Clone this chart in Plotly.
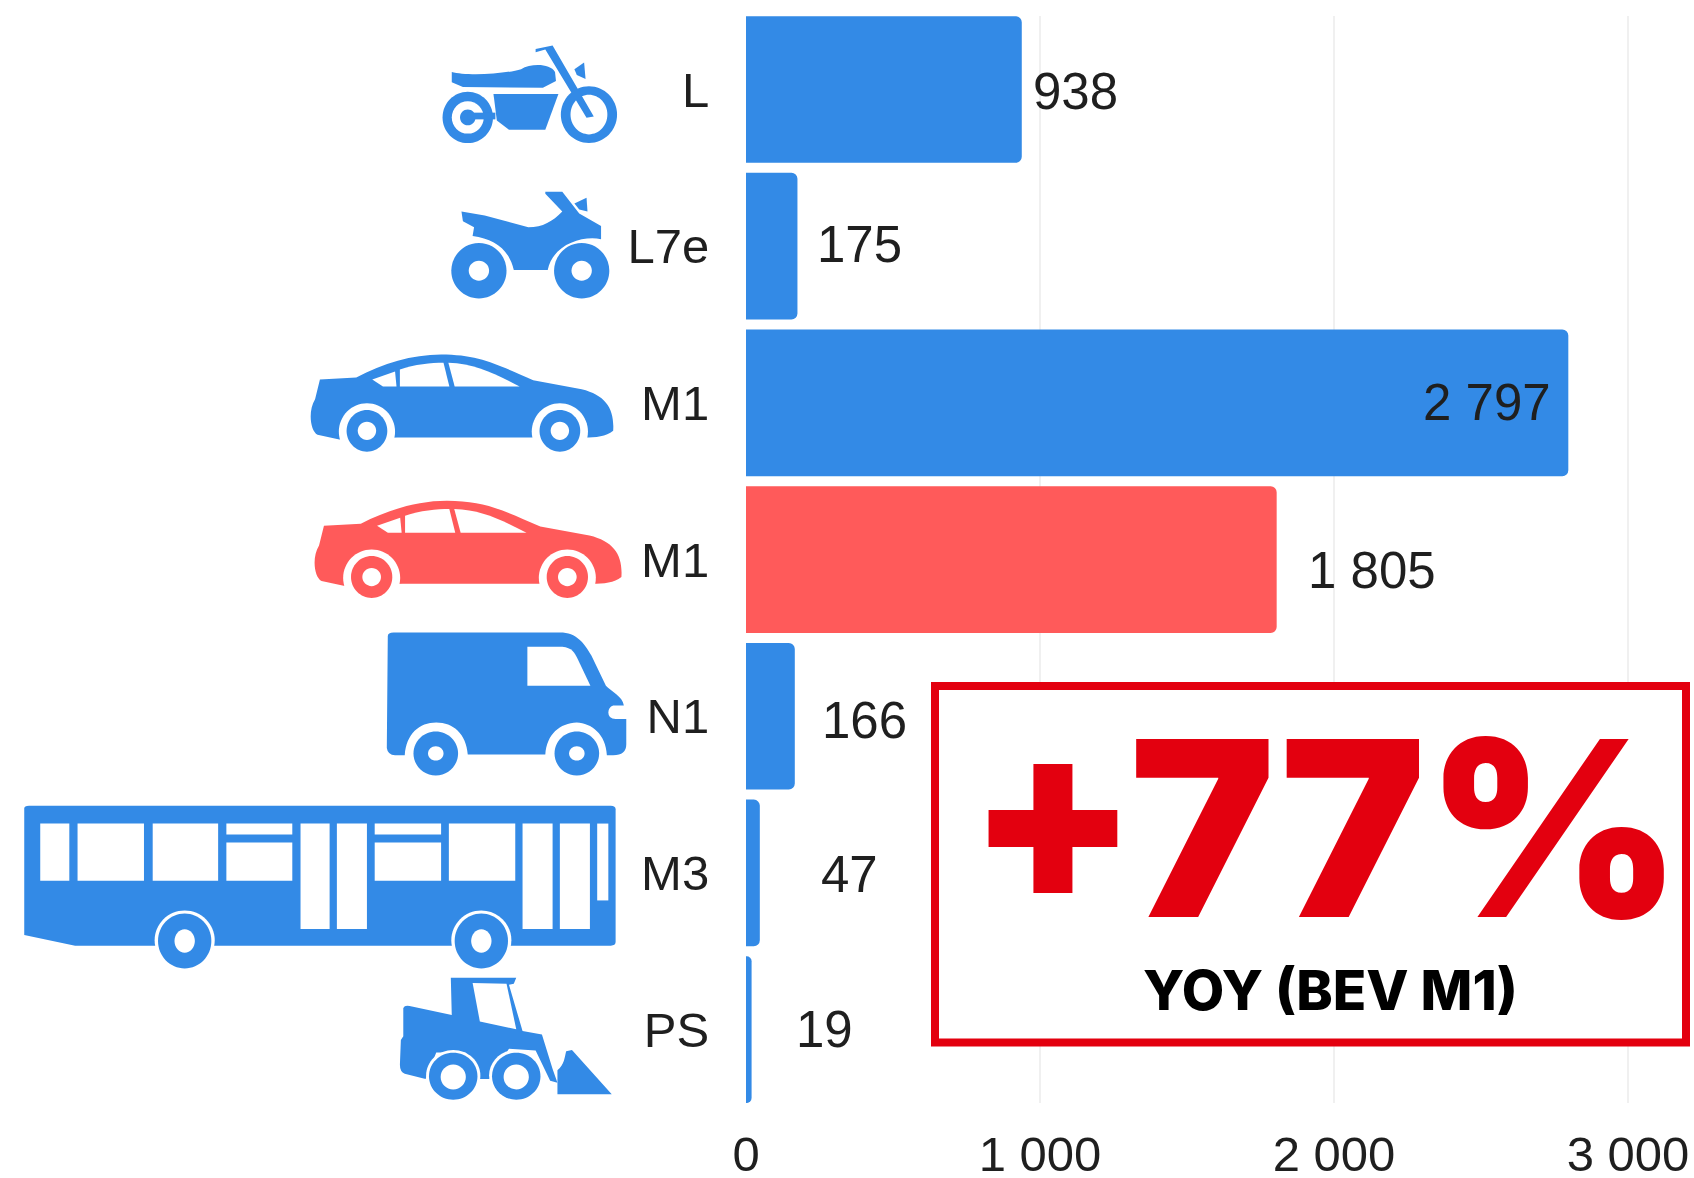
import re
import plotly.graph_objects as go

W, H = 1694, 1178
categories = ["L", "L7e", "M1", "M1", "N1", "M3", "PS"]
values = [938, 175, 2797, 1805, 166, 47, 19]
value_labels = ["938", "175", "2 797", "1 805", "166", "47", "19"]
bar_colors = ["#338ae6", "#338ae6", "#338ae6", "#ff5a5a", "#338ae6", "#338ae6", "#338ae6"]
label_dx = [9.5, 18, -15, 29, 25, 59, 42]
label_dy = [2, -2, 0, 11, 4, 2, 0]
x_ticks = [0, 1000, 2000, 3000]
x_ticklabels = ["0", "1 000", "2 000", "3 000"]
BLUE, RED, WHITE = "#338ae6", "#ff5a5a", "#ffffff"
BOX_RED = "#e3000f"

X0, PX_PER = 746, 0.294
PLOT_TOP, PLOT_BOTTOM = 16, 1103


def px(d, sx=1, sy=1, ox=0, oy=0, kx=1, x0=0):
    """Path in source units -> paper path."""
    out = []
    for cmd, args in re.findall(r"([MLCQZ])([^MLCQZ]*)", d):
        nums = [float(n) for n in re.findall(r"-?\d+\.?\d*", args)]
        pts = []
        for i in range(0, len(nums), 2):
            x = (x0 + (nums[i] - x0) * kx) / sx + ox
            y = nums[i + 1] / sy + oy
            pts.append(f"{x / W:.5f},{1 - y / H:.5f}")
        out.append(cmd + " ".join(pts))
    return " ".join(out)


def ell(cx, cy, rx, ry):
    k = 0.5523
    return (f"M{cx-rx},{cy} C{cx-rx},{cy-k*ry} {cx-k*rx},{cy-ry} {cx},{cy-ry} "
            f"C{cx+k*rx},{cy-ry} {cx+rx},{cy-k*ry} {cx+rx},{cy} "
            f"C{cx+rx},{cy+k*ry} {cx+k*rx},{cy+ry} {cx},{cy+ry} "
            f"C{cx-k*rx},{cy+ry} {cx-rx},{cy+k*ry} {cx-rx},{cy} Z")


def rect(a, b, c, d):
    return f"M{a},{b} L{c},{b} L{c},{d} L{a},{d} Z"


shapes = []


def add(d, color, **t):
    shapes.append(dict(type="path", xref="paper", yref="paper", path=px(d, **t),
                       fillcolor=color, line=dict(width=0), layer="above"))


Z1 = dict(sx=2.063, sy=2.53, ox=0, oy=0)
Z2 = dict(sx=2.063, sy=2.81, ox=0, oy=620)

# motorcycle
add(ell(965, 297, 52, 65), BLUE, **Z1)
add(ell(965, 297, 33, 41), WHITE, **Z1)
add(ell(965, 297, 16, 20), BLUE, **Z1)
add(rect(965, 285, 1022, 302), BLUE, **Z1)
add(ell(1215, 290, 58, 72), BLUE, **Z1)
add(ell(1215, 290, 38, 50), WHITE, **Z1)
add("M932,182 C960,192 1040,188 1075,175 C1095,160 1135,160 1145,182 L1147,205 L1120,222 L955,220 L932,208 Z", BLUE, **Z1)
add("M1018,238 L1152,238 L1125,328 L1050,328 L1025,305 Z", BLUE, **Z1)
add("M1140,115 L1225,295 L1210,298 L1125,125 L1105,132 L1105,124 Z", BLUE, **Z1)
add("M1205,158 L1208,200 L1190,190 L1185,175 Z", BLUE, **Z1)

# quad
add("M952,535 L1000,545 L1090,575 C1120,575 1140,560 1160,535 L1125,490 L1125,485 L1160,485 L1195,540 L1240,572 "
    "L1240,605 C1200,595 1140,620 1130,683 L1060,683 C1050,630 1020,605 975,597 L978,575 L955,560 Z", BLUE, **Z1)
add("M1210,500 L1212,535 L1195,530 L1185,515 Z", BLUE, **Z1)
for cx in (988, 1200):
    add(ell(cx, 685, 57, 70), BLUE, **Z1)
    add(ell(cx, 685, 21, 25), WHITE, **Z1)


# cars
def car(color, **t):
    add("M660,960 L735,955 C790,920 850,897 910,897 C990,897 1030,925 1100,962 L1200,985 C1250,1000 1268,1035 1265,1090 "
        "C1250,1105 1230,1107 1205,1107 L820,1107 L700,1112 L655,1100 C640,1090 635,1040 650,1010 Z", color, **t)
    add("M768,960 L815,940 L818,978 L790,978 Z", WHITE, **t)
    add("M825,935 C855,922 890,918 915,918 L927,978 L825,978 Z", WHITE, **t)
    add("M925,918 C980,920 1020,945 1072,978 L938,978 Z", WHITE, **t)
    for cx in (757, 1155):
        add(ell(cx, 1092, 58, 72), WHITE, **t)
        add(ell(cx, 1090, 42, 53), BLUE if color == BLUE else RED, **t)
        add(ell(cx, 1090, 19, 23), WHITE, **t)


car(BLUE, **Z1)
car(RED, sx=2.063, sy=2.53, ox=3.9, oy=370 / 2.53, kx=1.0143, x0=640)

# van
add("M800,45 Q800,35 812,35 L1155,35 C1190,35 1205,65 1220,100 L1250,185 C1260,200 1285,215 1287,240 L1265,240 "
    "Q1255,245 1255,260 Q1255,278 1270,278 L1292,278 L1292,350 Q1292,380 1265,380 L1252,380 C1250,320 1220,290 1190,288 "
    "C1155,290 1128,320 1125,378 L965,378 C962,320 935,288 900,288 C865,288 838,320 835,380 L815,380 Q800,380 798,360 Z", BLUE, **Z2)
add("M1088,75 L1160,75 C1180,78 1185,90 1192,110 L1218,185 L1088,185 Z", WHITE, **Z2)
for cx in (899, 1190):
    add(ell(cx, 375, 46, 62), BLUE, **Z2)
    add(ell(cx, 375, 16, 20), WHITE, **Z2)

# bus
add("M50,530 Q50,522 60,522 L1260,522 Q1270,522 1270,532 L1270,905 Q1270,915 1260,915 L155,915 L50,885 Z", BLUE, **Z2)
for a, b, c, d in [(83, 572, 143, 733), (160, 572, 297, 733), (315, 572, 450, 733), (467, 572, 603, 603),
                   (467, 625, 603, 733), (620, 572, 680, 868), (695, 572, 757, 868), (773, 572, 910, 603),
                   (773, 625, 910, 733), (926, 572, 1063, 733), (1078, 572, 1140, 868), (1155, 572, 1217, 868),
                   (1232, 572, 1255, 788)]:
    add(rect(a, b, c, d), WHITE, **Z2)
for cx in (381, 993):
    add(ell(cx, 900, 62, 84), WHITE, **Z2)
    add(ell(cx, 902, 55, 77), BLUE, **Z2)
    add(ell(cx, 902, 21, 33), WHITE, **Z2)

# loader
add("M832,1090 Q835,1082 845,1085 L932,1110 L930,1005 L1065,1005 L1060,1022 L1050,1025 L1078,1155 L1118,1165 L1140,1262 "
    "L1150,1300 L1135,1295 L1105,1210 L1050,1205 L1010,1290 L990,1290 L960,1215 L900,1215 L878,1290 L835,1275 "
    "Q825,1270 825,1250 L827,1180 L832,1170 Z", BLUE, **Z2)
add("M975,1020 L1045,1022 L1065,1150 L990,1128 Z", WHITE, **Z2)
add("M1150,1265 C1165,1250 1165,1225 1168,1212 L1180,1208 L1262,1333 L1150,1333 Z", BLUE, **Z2)
for cx in (935, 1065):
    add(ell(cx, 1280, 56, 72), WHITE, **Z2)
    add(ell(cx, 1282, 50, 66), BLUE, **Z2)
    add(ell(cx, 1284, 26, 35), WHITE, **Z2)

# callout box
shapes.append(dict(type="rect", xref="paper", yref="paper", x0=935 / W, x1=1686 / W,
                   y0=1 - 1042.5 / H, y1=1 - 686 / H, fillcolor=WHITE,
                   line=dict(color=BOX_RED, width=8), layer="above"))

annotations = []
for i, (v, t, dx, dy) in enumerate(zip(values, value_labels, label_dx, label_dy)):
    annotations.append(dict(x=v, y=i, xref="x", yref="y", text=t, showarrow=False,
                            xanchor="right" if dx < 0 else "left", xshift=dx, yshift=-dy,
                            font=dict(family="Liberation Sans", size=51, color="#1f1f1f")))
annotations.append(dict(x=1325 / W, y=1 - 828 / H, xref="paper", yref="paper", text="+77%", showarrow=False,
                        font=dict(family="Inter", size=245, color=BOX_RED, weight=900), xanchor="center", yanchor="middle"))
annotations.append(dict(x=1330 / W, y=1 - 990 / H, xref="paper", yref="paper", text="YOY (BEV M1)", showarrow=False,
                        font=dict(family="Inter", size=55, color="#000000", weight=800), xanchor="center", yanchor="middle"))

fig = go.Figure(go.Bar(x=values, y=list(range(len(values))), orientation="h",
                       marker=dict(color=bar_colors, line=dict(width=0), cornerradius=6),
                       hoverinfo="skip"))
fig.update_layout(
    width=W, height=H, margin=dict(l=0, r=0, t=0, b=0, autoexpand=False), paper_bgcolor="white", plot_bgcolor="white",
    bargap=0.0638, showlegend=False, shapes=shapes, annotations=annotations,
    font=dict(family="Liberation Sans", color="#1f1f1f"),
    xaxis=dict(domain=[X0 / W, 1], range=[0, (W - X0) / PX_PER], tickvals=x_ticks, ticktext=x_ticklabels,
               showgrid=True, gridcolor="#f0f0f0", gridwidth=2, zeroline=False, showline=False,
               ticks="outside", ticklen=8, tickcolor="rgba(0,0,0,0)", tickfont=dict(size=49, color="#1f1f1f")),
    yaxis=dict(domain=[1 - PLOT_BOTTOM / H, 1 - PLOT_TOP / H], range=[6.468, -0.469], tickvals=list(range(len(categories))),
               ticktext=categories, showgrid=False, zeroline=False, showline=False,
               ticks="outside", ticklen=26, tickcolor="rgba(0,0,0,0)", tickfont=dict(size=49, color="#1f1f1f")),
)
fig.write_html("out.html", post_script="document.body.style.margin='0';", config={"displayModeBar": False})
